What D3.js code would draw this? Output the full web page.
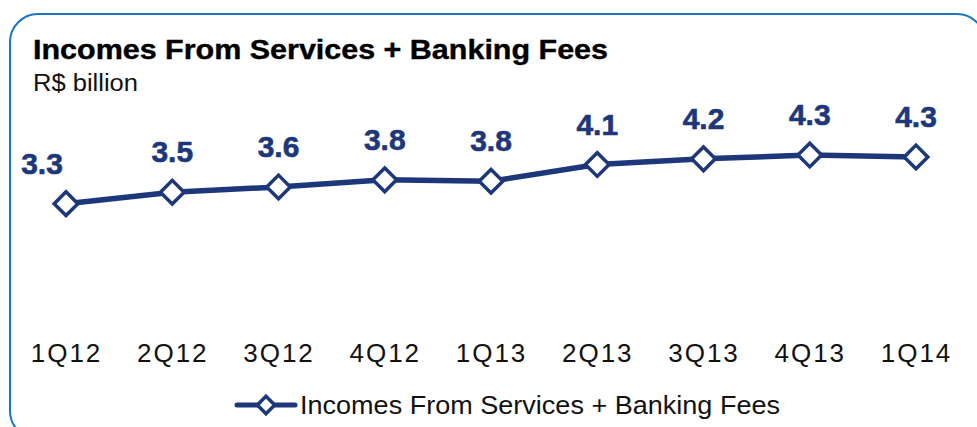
<!DOCTYPE html>
<html>
<head>
<meta charset="utf-8">
<script src="https://cdn.jsdelivr.net/npm/d3@7"></script>
<style>
  html, body { margin: 0; padding: 0; background: #fff; }
  svg { display: block; }
  text { font-family: "Liberation Sans", Arial, sans-serif; }
</style>
</head>
<body>
<svg id="chart" width="977" height="427"></svg>
<script>
// Quarterly incomes from services + banking fees (R$ billion)
const quarters = ["1Q12", "2Q12", "3Q12", "4Q12", "1Q13", "2Q13", "3Q13", "4Q13", "1Q14"];
const incomes = [3.28, 3.52, 3.63, 3.78, 3.75, 4.10, 4.22, 4.30, 4.26];
const titleText = "Incomes From Services + Banking Fees";
const unitText = "R$ billion";
const seriesName = "Incomes From Services + Banking Fees";

const navy = "#1d377b";
const svg = d3.select("#chart");

// Rounded frame
svg.append("rect")
  .attr("x", 10).attr("y", 14)
  .attr("width", 975).attr("height", 425)
  .attr("rx", 28).attr("ry", 28)
  .attr("fill", "none")
  .attr("stroke", "#1a74c6")
  .attr("stroke-width", 2);

// Title and unit
svg.append("text")
  .attr("x", 33).attr("y", 59)
  .attr("font-size", 27).attr("font-weight", "bold")
  .attr("fill", "#000")
  .attr("stroke", "#000").attr("stroke-width", 0.4)
  .attr("textLength", 575).attr("lengthAdjust", "spacingAndGlyphs")
  .text(titleText);
svg.append("text")
  .attr("x", 33).attr("y", 91)
  .attr("font-size", 23)
  .attr("fill", "#111")
  .attr("textLength", 105).attr("lengthAdjust", "spacingAndGlyphs")
  .text(unitText);

const x = d3.scalePoint().domain(quarters).range([66, 916]);
const y = d3.scaleLinear().domain([0, 6]).range([360, 74]);

// Category axis (labels only)
const xAxis = d3.axisBottom(x).tickSize(0).tickPadding(0);
const gx = svg.append("g").attr("transform", "translate(0,344)").call(xAxis);
gx.select(".domain").remove();
gx.selectAll("text")
  .attr("font-size", 26)
  .attr("fill", "#111")
  .attr("letter-spacing", 2)
  .attr("font-family", "Liberation Sans, Arial, sans-serif");

const pts = quarters.map((q, i) => ({ q, v: incomes[i] }));

// Series line
svg.append("path")
  .datum(pts)
  .attr("fill", "none")
  .attr("stroke", navy)
  .attr("stroke-width", 5.5)
  .attr("stroke-linejoin", "round")
  .attr("d", d3.line().x(d => x(d.q)).y(d => y(d.v)));

// Diamond markers
const diamond = d3.symbol(d3.symbolSquare, 280);
svg.selectAll(".marker")
  .data(pts)
  .join("path")
  .attr("class", "marker")
  .attr("d", diamond)
  .attr("transform", d => `translate(${x(d.q)},${y(d.v)}) rotate(45)`)
  .attr("fill", "#fff")
  .attr("stroke", navy)
  .attr("stroke-width", 3.5);

// Value labels
const fmt = d3.format(".1f");
svg.selectAll(".val")
  .data(pts)
  .join("text")
  .attr("class", "val")
  .attr("x", (d, i) => x(d.q) + (i === 0 ? -24 : 0))
  .attr("y", d => y(d.v) - 30)
  .attr("text-anchor", "middle")
  .attr("font-size", 30)
  .attr("font-weight", "bold")
  .attr("fill", navy)
  .attr("stroke", navy).attr("stroke-width", 0.6)
  .text(d => fmt(d.v));

// Legend
const lg = svg.append("g");
lg.append("line")
  .attr("x1", 237).attr("x2", 295)
  .attr("y1", 405).attr("y2", 405)
  .attr("stroke", navy).attr("stroke-width", 5).attr("stroke-linecap", "round");
lg.append("path")
  .attr("d", d3.symbol(d3.symbolSquare, 150))
  .attr("transform", "translate(266,405) rotate(45)")
  .attr("fill", "#fff").attr("stroke", navy).attr("stroke-width", 3.5);
lg.append("text")
  .attr("x", 300).attr("y", 414)
  .attr("font-size", 25)
  .attr("fill", "#111")
  .attr("textLength", 480).attr("lengthAdjust", "spacingAndGlyphs")
  .text(seriesName);
</script>
</body>
</html>
